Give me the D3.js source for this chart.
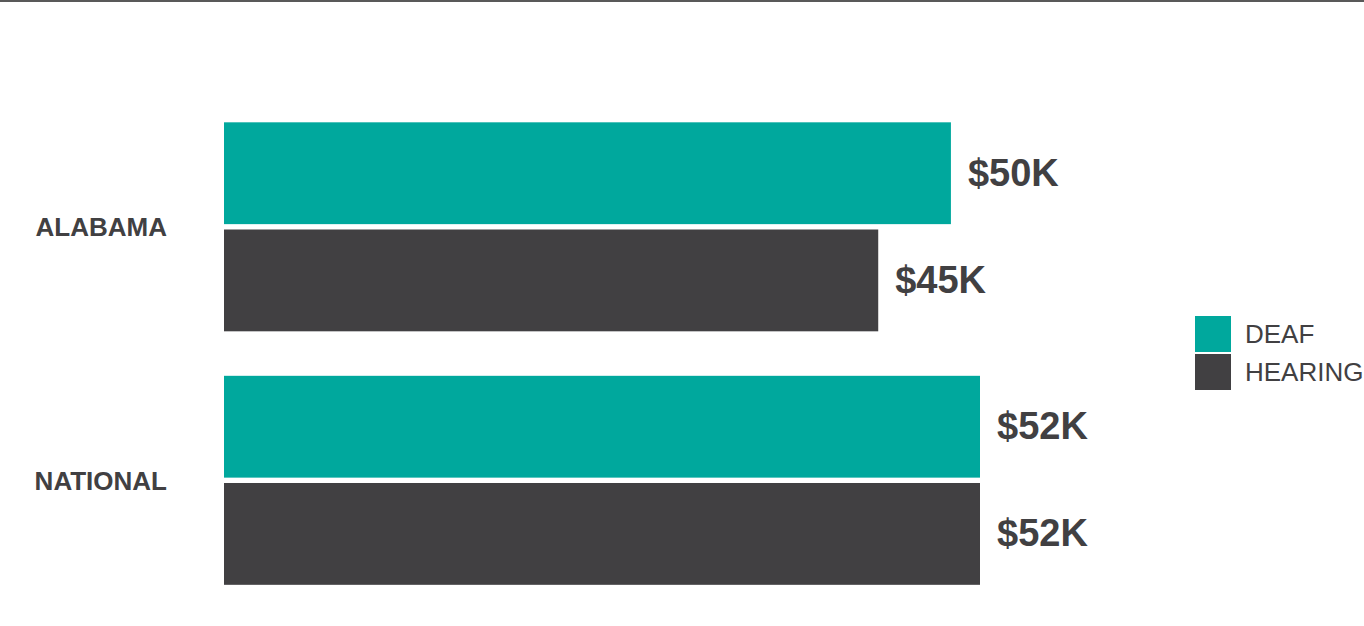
<!DOCTYPE html>
<html>
<head>
<meta charset="utf-8">
<script src="https://cdn.jsdelivr.net/npm/d3@7"></script>
<style>
  body { margin: 0; background: #fff; }
  svg { display: block; font-family: "Liberation Sans", Arial, sans-serif; }
</style>
</head>
<body>
<script>
// data
var regions = ['ALABAMA', 'NATIONAL'];
var groups = ['DEAF', 'HEARING'];
var deafValues = [50, 52];
var hearingValues = [45, 52];
var valueLabels = [['$50K', '$45K'], ['$52K', '$52K']];

var colors = { DEAF: '#00a89d', HEARING: '#414042' };

var width = 1364, height = 626;

var svg = d3.select('body').append('svg')
  .attr('width', width)
  .attr('height', height);

// top rule
svg.append('rect')
  .attr('x', 0).attr('y', 0)
  .attr('width', width).attr('height', 2)
  .attr('fill', '#595959');

var x = d3.scaleLinear().domain([0, 52]).range([224, 980]);

// groups sit at 122-331 and 376-584
var yRegion = d3.scaleBand().domain(regions).range([99.5, 606.5]).paddingInner(0.18).paddingOuter(0.09);
var y1 = d3.scaleBand().domain(groups).range([0, 209]).paddingInner(0.05);

var rows = [];
regions.forEach(function(r, i){
  rows.push({region: r, group: 'DEAF', value: deafValues[i], label: valueLabels[i][0]});
  rows.push({region: r, group: 'HEARING', value: hearingValues[i], label: valueLabels[i][1]});
});

var g = svg.append('g');

g.selectAll('rect.bar')
  .data(rows)
  .enter().append('rect')
  .attr('class', 'bar')
  .attr('x', x(0))
  .attr('y', function(d){ return yRegion(d.region) + y1(d.group); })
  .attr('width', function(d){ return x(d.value) - x(0); })
  .attr('height', y1.bandwidth())
  .attr('fill', function(d){ return colors[d.group]; });

g.selectAll('text.val')
  .data(rows)
  .enter().append('text')
  .attr('class', 'val')
  .attr('x', function(d){ return x(d.value) + 17; })
  .attr('y', function(d){ return yRegion(d.region) + y1(d.group) + y1.bandwidth() / 2; })
  .attr('dy', '0.33em')
  .attr('font-size', 38)
  .attr('font-weight', 'bold')
  .attr('fill', '#414042')
  .text(function(d){ return d.label; });

g.selectAll('text.cat')
  .data(regions)
  .enter().append('text')
  .attr('class', 'cat')
  .attr('x', 167)
  .attr('y', function(d){ return yRegion(d) + 104.5; })
  .attr('dy', '0.36em')
  .attr('text-anchor', 'end')
  .attr('font-size', 26)
  .attr('font-weight', 'bold')
  .attr('fill', '#414042')
  .text(function(d){ return d; });

// legend
var legend = svg.append('g').attr('transform', 'translate(1195,316)');
legend.selectAll('rect')
  .data(groups)
  .enter().append('rect')
  .attr('x', 0)
  .attr('y', function(d, i){ return i * 38; })
  .attr('width', 36)
  .attr('height', 36)
  .attr('fill', function(d){ return colors[d]; });
legend.selectAll('text')
  .data(groups)
  .enter().append('text')
  .attr('x', 50)
  .attr('y', function(d, i){ return i * 38 + 18; })
  .attr('dy', '0.36em')
  .attr('font-size', 26)
  .attr('fill', '#414042')
  .text(function(d){ return d; });
</script>
</body>
</html>
